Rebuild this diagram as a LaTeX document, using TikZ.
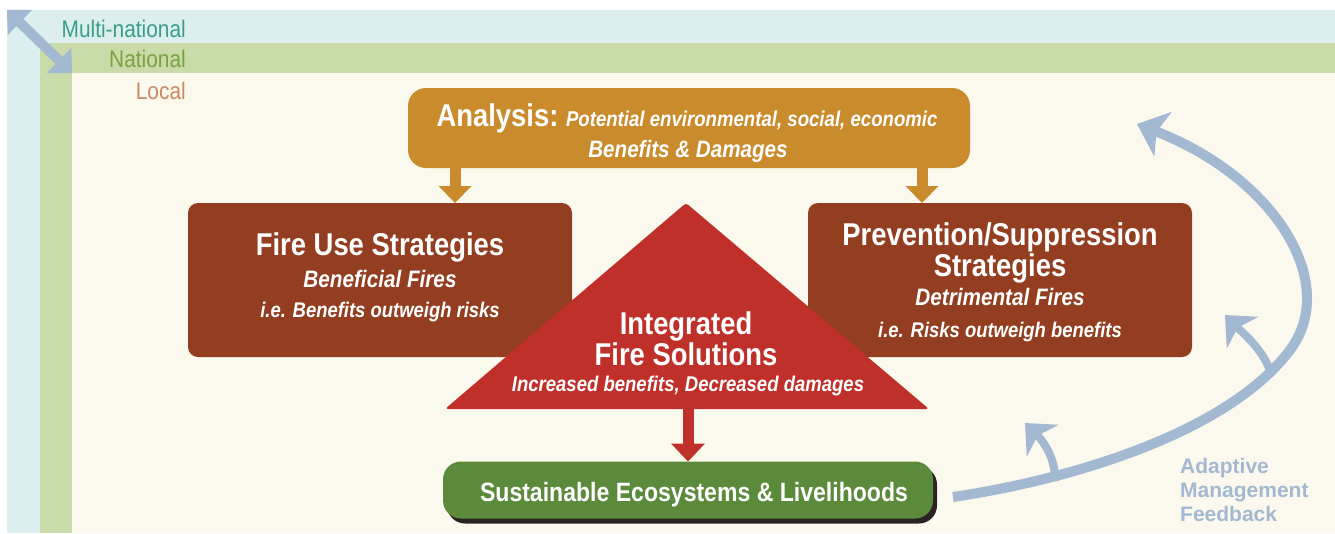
\documentclass[tikz,border=0pt]{standalone}
\usepackage{fontspec}
\setmainfont{Liberation Sans}
\newfontfamily\cond[FakeStretch=0.87]{Liberation Sans}
\usetikzlibrary{arrows.meta}
\definecolor{bgcyan}{HTML}{DCEFEE}
\definecolor{bggreen}{HTML}{C9DBA9}
\definecolor{bgcream}{HTML}{FBF8EE}
\definecolor{anagold}{HTML}{C98B2C}
\definecolor{firebrown}{HTML}{933E20}
\definecolor{trired}{HTML}{C0302A}
\definecolor{sustgreen}{HTML}{5B8A3B}
\definecolor{fbblue}{HTML}{A3B9D2}
\definecolor{multiteal}{HTML}{3A9F86}
\definecolor{natgreen}{HTML}{7AA23F}
\definecolor{localtan}{HTML}{C98A64}
\definecolor{shadowdark}{HTML}{2B2224}
\newcommand{\myfs}[1]{\fontsize{#1}{#1}\selectfont}
\begin{document}
\begin{tikzpicture}[x=1pt,y=-1pt,
  box/.style={inner sep=0pt, outer sep=0pt, draw=none},
  txt/.style={anchor=base, inner sep=0pt, outer sep=0pt, text=white},
  lvl/.style={anchor=base east, inner sep=0pt, font=\cond\myfs{24}},
  fblbl/.style={anchor=base west, inner sep=0pt, text=fbblue, font=\bfseries\myfs{21}},
  goldarr/.style={draw=anagold, line width=11pt, -{Triangle[width=33pt,length=17pt,line width=0pt]}},
  redarr/.style={draw=trired, line width=11pt, -{Triangle[width=34pt,length=18pt,line width=0pt]}},
  fbmain/.style={draw=fbblue, line width=10pt, -{Stealth[width=48pt,length=28pt,inset=7pt,line width=0pt]}},
  fbbranch/.style={draw=fbblue, line width=8pt, -{Stealth[width=45pt,length=25pt,inset=7pt,line width=0pt]}},
  dblarr/.style={draw=fbblue, line width=10pt, {Triangle[width=35pt,length=18pt,line width=0pt]}-{Triangle[width=35pt,length=18pt,line width=0pt]}}
]
\useasboundingbox (0,0) rectangle (1335,533);
\fill[white] (0,0) rectangle (1335,533);
% nested levels
\coordinate (cyanTL) at (7,10);
\coordinate (greenTL) at (40,43);
\coordinate (creamTL) at (72,73);
\coordinate (BR) at (1335,533);
\fill[bgcyan] (cyanTL) rectangle (BR);
\fill[bggreen] (greenTL) rectangle (BR);
\fill[bgcream] (creamTL) rectangle (BR);
\draw[dblarr] (cyanTL) -- (creamTL);
\node[lvl, text=multiteal] (lmulti) at (186,37) {Multi-national};
\node[lvl, text=natgreen] (lnat) at (186,67) {National};
\node[lvl, text=localtan] (lloc) at (186,99) {Local};
% boxes
\node[box, fill=anagold, rounded corners=18pt, minimum width=562pt, minimum height=80pt] (analysis) at (689,128) {};
\node[box, fill=firebrown, rounded corners=10pt, minimum width=384pt, minimum height=154pt] (fireuse) at (380,280) {};
\node[box, fill=firebrown, rounded corners=10pt, minimum width=384pt, minimum height=154pt] (prevent) at (1000,280) {};
\coordinate (triL) at (445,409);
\coordinate (triA) at (686,203);
\coordinate (triR) at (929,409);
\coordinate (tribot) at (688,408);
\fill[trired, rounded corners=3pt] (triL) -- (triA) -- (triR) -- cycle;
\node[box, fill=shadowdark, rounded corners=18pt, minimum width=490pt, minimum height=57pt] (sustshadow) at (692,495) {};
\node[box, fill=sustgreen, rounded corners=18pt, minimum width=490pt, minimum height=57pt] (sust) at (688,490) {};
% arrows
\draw[goldarr] (455,0 |- analysis.south) -- (455,0 |- fireuse.north);
\draw[goldarr] (922,0 |- analysis.south) -- (922,0 |- prevent.north);
\draw[redarr] (tribot) -- (sust.north);
% feedback
\coordinate (fbstart) at (953,497);
\coordinate (fbtip) at (1137,124);
\coordinate (br1base) at (1055,481);
\coordinate (br1tip) at (1025,423);
\coordinate (br2base) at (1271,374);
\coordinate (br2tip) at (1225,315);
\draw[fbbranch] (br1base) .. controls (1056,458) and (1042,440) .. (br1tip);
\draw[fbbranch] (br2base) .. controls (1265,352) and (1245,335) .. (br2tip);
\draw[fbmain] (fbstart) .. controls (1080,478) and (1230,430) .. (1290,350) .. controls (1340,283) and (1275,178) .. (fbtip);
\node[fblbl] (fb1) at (1180,473) {Adaptive};
\node[fblbl] (fb2) at (1180,497) {Management};
\node[fblbl] (fb3) at (1180,521) {Feedback};
% texts
\node[txt, font=\cond\bfseries] (an1) at (687,126) {\myfs{31.5}Analysis:\ \itshape\myfs{21.4}Potential environmental, social, economic};
\node[txt, font=\cond\bfseries\itshape\myfs{23.7}] (an2) at (688,157) {Benefits \& Damages};
\node[txt, font=\cond\bfseries\myfs{31.5}] (fu1) at (380,255) {Fire Use Strategies};
\node[txt, font=\cond\bfseries\itshape\myfs{23.8}] (fu2) at (380,287) {Beneficial Fires};
\node[txt, font=\cond\bfseries\itshape\myfs{21.2}] (fu3) at (380,317) {i.e. Benefits outweigh risks};
\node[txt, font=\cond\bfseries\myfs{31.5}] (pr1) at (1000,245) {Prevention/Suppression};
\node[txt, font=\cond\bfseries\myfs{31.5}] (pr2) at (1000,276) {Strategies};
\node[txt, font=\cond\bfseries\itshape\myfs{23.8}] (pr3) at (1000,305) {Detrimental Fires};
\node[txt, font=\cond\bfseries\itshape\myfs{21.2}] (pr4) at (1000,337) {i.e. Risks outweigh benefits};
\node[txt, font=\cond\bfseries\myfs{31.5}] (in1) at (686,334) {Integrated};
\node[txt, font=\cond\bfseries\myfs{31.5}] (in2) at (686,365) {Fire Solutions};
\node[txt, font=\cond\bfseries\itshape\myfs{21.3}] (in3) at (688,391) {Increased benefits, Decreased damages};
\node[txt, font=\cond\bfseries\myfs{26.5}] (su1) at (694,501) {Sustainable Ecosystems \& Livelihoods};
\end{tikzpicture}
\end{document}
